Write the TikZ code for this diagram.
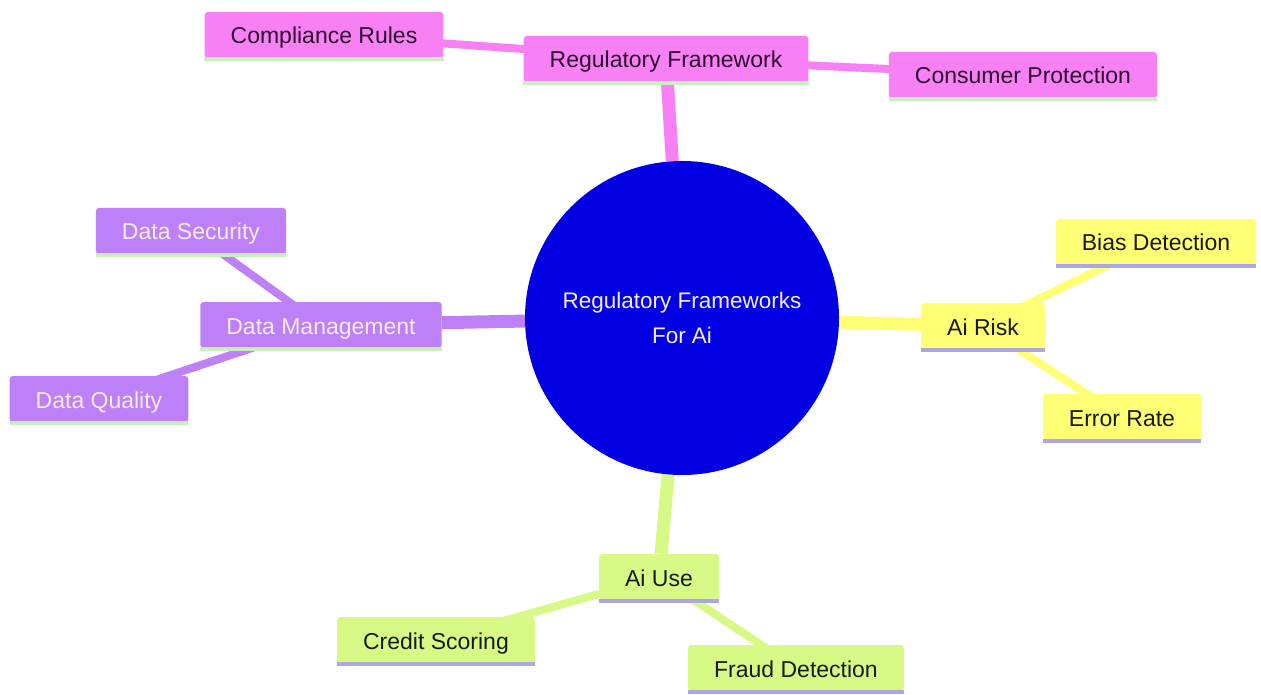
\documentclass[tikz,border=0pt]{standalone}
\usepackage{fontspec}
\setmainfont{Liberation Sans}
\usetikzlibrary{backgrounds}

\definecolor{rootblue}{RGB}{2,0,226}
\definecolor{regpink}{RGB}{247,128,245}
\definecolor{datapurple}{RGB}{190,128,246}
\definecolor{riskyellow}{RGB}{255,255,117}
\definecolor{usegreen}{RGB}{214,250,133}
\definecolor{linegreen}{RGB}{200,240,190}
\definecolor{linelav}{RGB}{172,166,226}
\definecolor{darktext}{RGB}{45,10,45}
\definecolor{lighttext}{RGB}{245,235,245}
\definecolor{inktext}{RGB}{25,25,25}

\tikzset{
  topic/.style={rounded corners=3pt, minimum height=46pt, inner xsep=26pt,
    inner ysep=2pt, text height=20pt, text depth=2pt,
    font=\fontsize{23}{28}\selectfont},
  rootnode/.style={circle, fill=rootblue, minimum size=314pt, inner sep=0pt,
    align=center, text=lighttext, font=\fontsize{22.5}{35}\selectfont},
  trunk/.style={draw=#1, line width=13pt},
  twig/.style={draw=#1, line width=8pt},
  uline/.style={draw=#1, line width=3.5pt}
}

\begin{document}
\begin{tikzpicture}[x=1pt,y=-1pt]
\useasboundingbox (0,0) rectangle (1261,695);

% centre
\node[rootnode] (root) at (682,318) {Regulatory Frameworks\\For Ai};

% regulatory framework branch
\node[topic, fill=regpink, text=darktext] (reg) at (666,59) {Regulatory Framework};
\node[topic, fill=regpink, text=darktext] (comp) at (324,35) {Compliance Rules};
\node[topic, fill=regpink, text=darktext] (cons) at (1023,75) {Consumer Protection};

% data management branch
\node[topic, fill=datapurple, text=lighttext] (dman) at (321,325) {Data Management};
\node[topic, fill=datapurple, text=lighttext] (dsec) at (191,231) {Data Security};
\node[topic, fill=datapurple, text=lighttext] (dqual) at (99,399) {Data Quality};

% ai risk branch
\node[topic, fill=riskyellow, text=inktext] (risk) at (983,326) {Ai Risk};
\node[topic, fill=riskyellow, text=inktext] (bias) at (1156,242) {Bias Detection};
\node[topic, fill=riskyellow, text=inktext] (err) at (1122,417) {Error Rate};

% ai use branch
\node[topic, fill=usegreen, text=inktext] (use) at (659,577) {Ai Use};
\node[topic, fill=usegreen, text=inktext] (credit) at (436,640) {Credit Scoring};
\node[topic, fill=usegreen, text=inktext] (fraud) at (796,668) {Fraud Detection};

\foreach \n/\c in {reg/linegreen, comp/linegreen, cons/linegreen,
    dman/linegreen, dsec/linegreen, dqual/linegreen,
    risk/linelav, bias/linelav, err/linelav,
    use/linelav, credit/linelav, fraud/linelav}
  \draw[uline=\c] ([yshift=-1pt]\n.south west) -- ([yshift=-1pt]\n.south east);

\begin{scope}[on background layer]
\draw[trunk=regpink] (root) -- (reg);
\draw[trunk=datapurple] (root) -- (dman);
\draw[trunk=riskyellow] (root) -- (risk);
\draw[trunk=usegreen] (root) -- (use);
\draw[twig=regpink] (reg.center) -- (comp.center);
\draw[twig=regpink] (reg.center) -- (cons.center);
\draw[twig=datapurple] (dman.center) -- (dsec.center);
\draw[twig=datapurple] (dman.center) -- (dqual.center);
\draw[twig=riskyellow] (risk.center) -- (bias.center);
\draw[twig=riskyellow] (risk.center) -- (err.center);
\draw[twig=usegreen] (use.center) -- (credit.center);
\draw[twig=usegreen] (use.center) -- (fraud.center);
\end{scope}
\end{tikzpicture}
\end{document}
